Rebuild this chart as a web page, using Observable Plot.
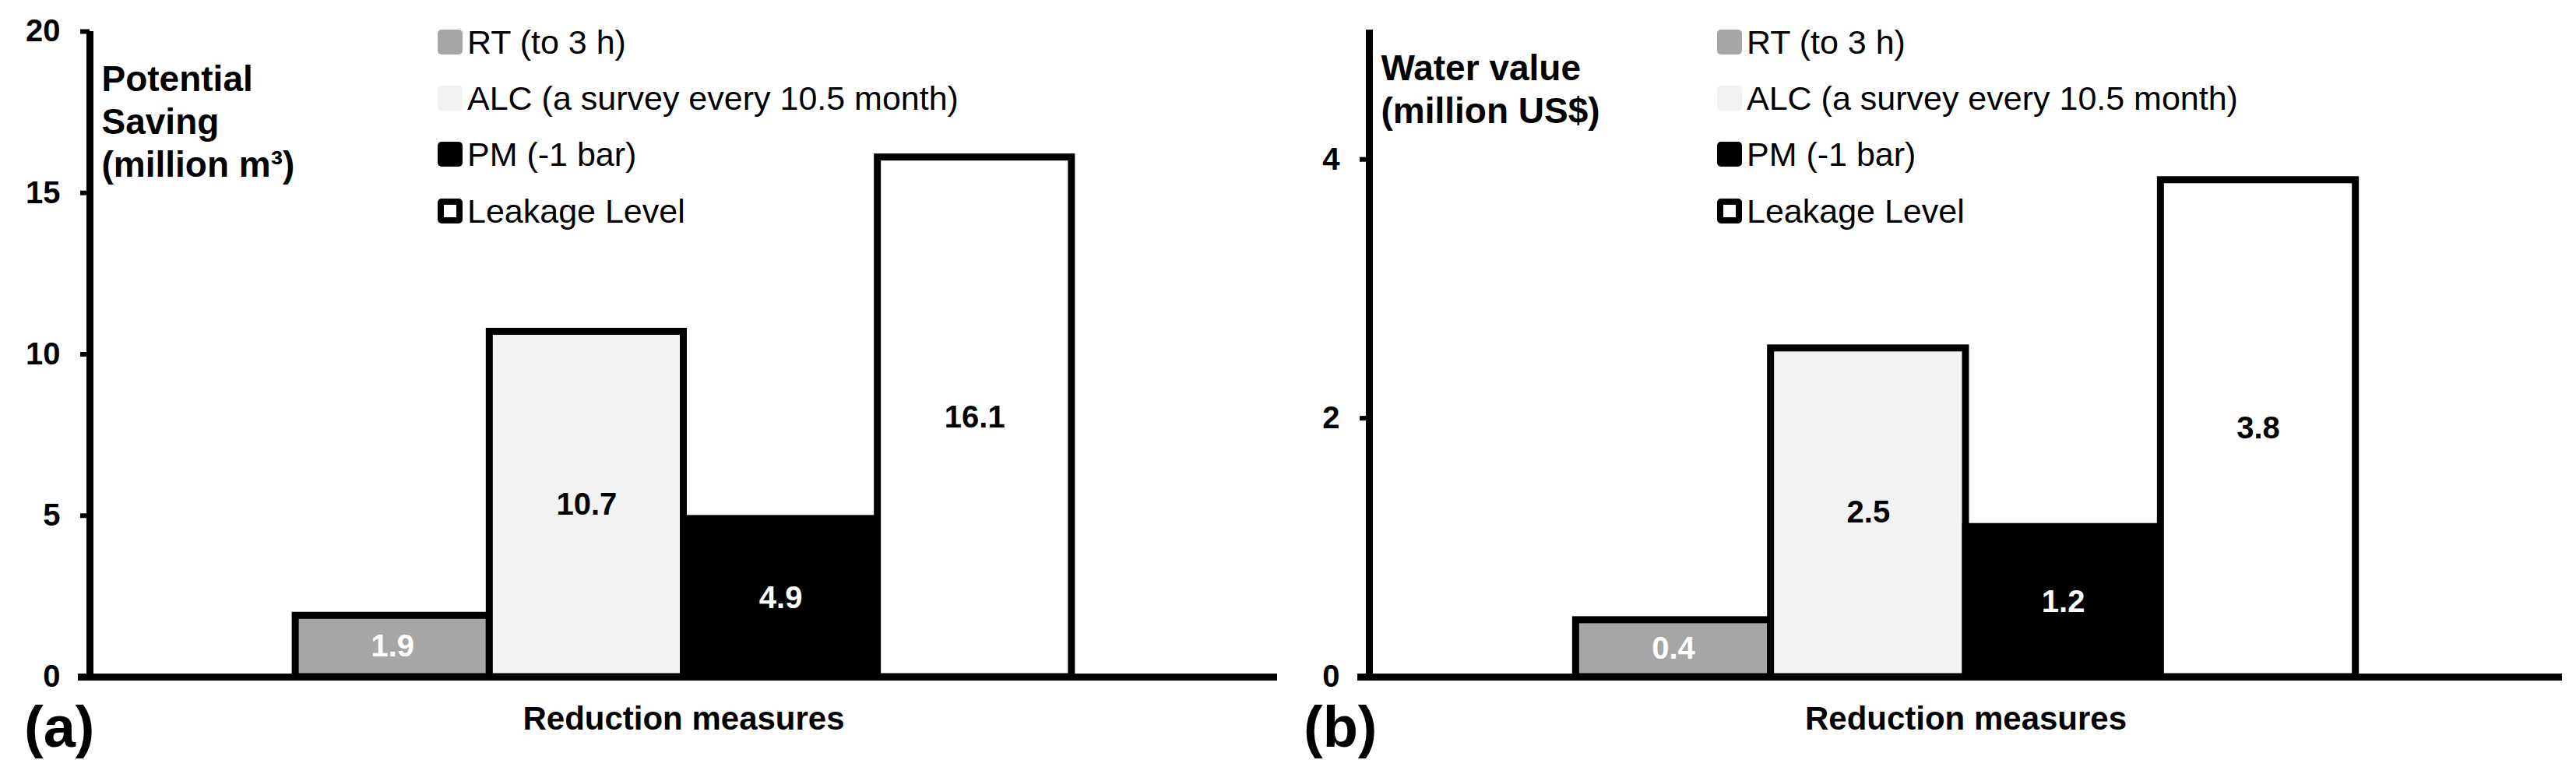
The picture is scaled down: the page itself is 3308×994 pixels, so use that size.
<!DOCTYPE html>
<html>
<head>
<meta charset="utf-8">
<script src="https://cdn.jsdelivr.net/npm/d3@7"></script>
<script src="https://cdn.jsdelivr.net/npm/@observablehq/plot@0.6"></script>
<style>
  html, body { margin: 0; padding: 0; background: #fff; }
  #root { position: relative; width: 3308px; height: 994px; overflow: hidden;
          font-family: "Liberation Sans", Arial, sans-serif; color: #000; }
  .panel { position: absolute; top: 0; }
  .legend-row { position: absolute; height: 44px; display: flex; align-items: center;
                white-space: nowrap; font-size: 43px; line-height: 44px; }
  .sw { width: 32px; height: 32px; border-radius: 5px; box-sizing: border-box; margin-right: 6px; flex: none; }
  .tag { position: absolute; font-size: 74px; line-height: 82px; font-weight: bold; }
</style>
</head>
<body>
<div id="root"></div>
<script>
// ---- data ----
const measures = ["RT (to 3 h)", "ALC (a survey every 10.5 month)", "PM (-1 bar)", "Leakage Level"];
const savingValues = [1.9, 10.7, 4.9, 16.1];      // million m³
const waterValues = [0.44, 2.54, 1.16, 3.84];     // million US$
const savingTicks = [0, 5, 10, 15, 20];
const waterTicks = [0, 2, 4];
const fillColors = ["#a6a6a6", "#f2f2f2", "#000000", "#ffffff"];
const labelColors = ["#ffffff", "#000000", "#ffffff", "#000000"];
const savingTitle = "Potential\nSaving\n(million m³)";
const waterTitle = "Water value\n(million US$)";
const xTitle = "Reduction measures";
const panelTags = ["(a)", "(b)"];

const root = document.getElementById("root");
const FONT = '"Liberation Sans", Arial, sans-serif';

function makePanel({values, yMax, ticks, title, left, width, marginTop, marginRight, titleDy, tag}) {
  const data = measures.map((m, i) => ({measure: m, index: i, value: values[i]}));
  const pad = 1.06;
  const fmt = d3.format(".1f");
  const whiteLabels = data.filter(d => labelColors[d.index] === "#ffffff");
  const blackLabels = data.filter(d => labelColors[d.index] !== "#ffffff");
  const labelOpts = {
    x: d => d.index + 0.5, y: d => d.value / 2, text: d => fmt(d.value),
    fontSize: 40, fontWeight: "bold"
  };
  const chart = Plot.plot({
    width, height: 994,
    marginLeft: 115, marginRight, marginTop, marginBottom: 125,
    x: {type: "linear", domain: [-pad, measures.length + pad], axis: null},
    y: {domain: [0, yMax], label: null},
    color: {domain: measures, range: fillColors},
    style: {fontFamily: FONT, background: "transparent", maxWidth: "none", overflow: "visible"},
    marks: [
      Plot.rect(data, {x1: "index", x2: d => d.index + 1, y1: 0, y2: "value",
        fill: "measure", stroke: "#000", strokeWidth: 9}),
      Plot.text(whiteLabels, {...labelOpts, fill: "#ffffff"}),
      Plot.text(blackLabels, {...labelOpts, fill: "#000000"}),
      Plot.axisY({ticks, tickSize: 12, tickPadding: 26, fontSize: 40, fontWeight: "bold",
        strokeWidth: 6, label: null, tickFormat: d => String(d)}),
      Plot.ruleX([-pad], {y1: 0, y2: yMax, strokeWidth: 9}),
      Plot.ruleY([0], {strokeWidth: 9, insetLeft: -15}),
      Plot.text([title], {frameAnchor: "top-left", dx: 15, dy: titleDy, textAnchor: "start",
        lineAnchor: "top", fontSize: 46, fontWeight: "bold", lineHeight: 1.2}),
      Plot.text([xTitle], {x: measures.length / 2, frameAnchor: "bottom", dy: 38,
        lineAnchor: "top", fontSize: 42, fontWeight: "bold"})
    ]
  });
  const wrap = document.createElement("div");
  wrap.className = "panel";
  wrap.style.left = left + "px";
  wrap.style.width = width + "px";
  wrap.appendChild(chart);
  root.appendChild(wrap);

  // legend (inside the plot area, top)
  const legendLeft = left + 115 + 447;
  const rowCenters = [54, 126, 198, 271];
  measures.forEach((m, i) => {
    const row = document.createElement("div");
    row.className = "legend-row";
    row.style.left = legendLeft + "px";
    row.style.top = (rowCenters[i] - 22) + "px";
    const sw = document.createElement("div");
    sw.className = "sw";
    sw.style.background = fillColors[i];
    if (fillColors[i] === "#ffffff") sw.style.border = "8px solid #000";
    const tx = document.createElement("span");
    tx.textContent = m;
    row.appendChild(sw);
    row.appendChild(tx);
    root.appendChild(row);
  });

  const t = document.createElement("div");
  t.className = "tag";
  t.textContent = tag;
  t.style.left = (left + 31) + "px";
  t.style.top = "893px";
  root.appendChild(t);
}

makePanel({values: savingValues, yMax: 20, ticks: savingTicks, title: savingTitle,
  left: 0, width: 1654, marginTop: 40, marginRight: 14, titleDy: 37, tag: panelTags[0]});
makePanel({values: waterValues, yMax: 5, ticks: waterTicks, title: waterTitle,
  left: 1643, width: 1665, marginTop: 38, marginRight: 18, titleDy: 25, tag: panelTags[1]});
</script>
</body>
</html>
